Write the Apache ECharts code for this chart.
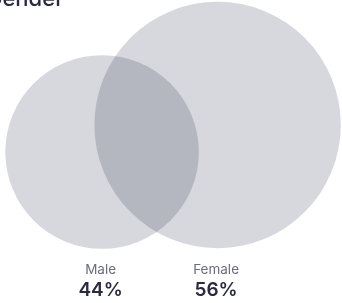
<!DOCTYPE html>
<html><head><meta charset="utf-8">
<script src="https://cdn.jsdelivr.net/npm/echarts@6/dist/echarts.min.js"></script>
<style>html,body{margin:0;padding:0;background:#fff}#c{width:342px;height:303px}</style>
</head><body><div id="c"></div>
<script>
const categories = ['Male', 'Female'];
const values = [44, 56];            // percent, also circle radius in axis units
const centerX = [46.4, 98.9];       // circle centres in axis units
const centerY = [69.1, 56.8];
const valueLabels = ['44%', '56%'];

const chart = echarts.init(document.getElementById('c'), null, {renderer: 'canvas'});
const data = categories.map((c, i) => [centerX[i], centerY[i], values[i], i]);
chart.setOption({
  animation: false,
  title: {
    text: 'Gender', left: -19, top: -17,
    textStyle: {fontFamily: 'Inter', fontSize: 22, fontWeight: 500, color: '#2b2b40'}
  },
  grid: {left: 0, top: 0, width: 342, height: 303},
  xAxis: {type: 'value', min: 0, max: 155.45, show: false},
  yAxis: {type: 'value', min: 0, max: 137.73, inverse: true, show: false},
  series: [{
    type: 'custom',
    data: data,
    renderItem: function (params, api) {
      const p = api.coord([api.value(0), api.value(1)]);
      const r = api.size([api.value(2), 0])[0];
      const i = api.value(3);
      return {
        type: 'group',
        children: [
          {type: 'circle', shape: {cx: p[0], cy: p[1], r: r},
           style: {fill: 'rgba(8,10,45,0.16)'}},
          {type: 'text', x: p[0] - 1.5, y: 277,
           style: {text: categories[i], fontFamily: 'Inter', fontSize: 13.5, fill: '#6c6c7e',
                   align: 'center', verticalAlign: 'bottom'}},
          {type: 'text', x: p[0] - 1.5, y: 300,
           style: {text: valueLabels[i], fontFamily: 'Inter', fontSize: 19, fontWeight: 600, fill: '#2b2b40',
                   align: 'center', verticalAlign: 'bottom'}}
        ]
      };
    }
  }]
});
</script></body></html>
